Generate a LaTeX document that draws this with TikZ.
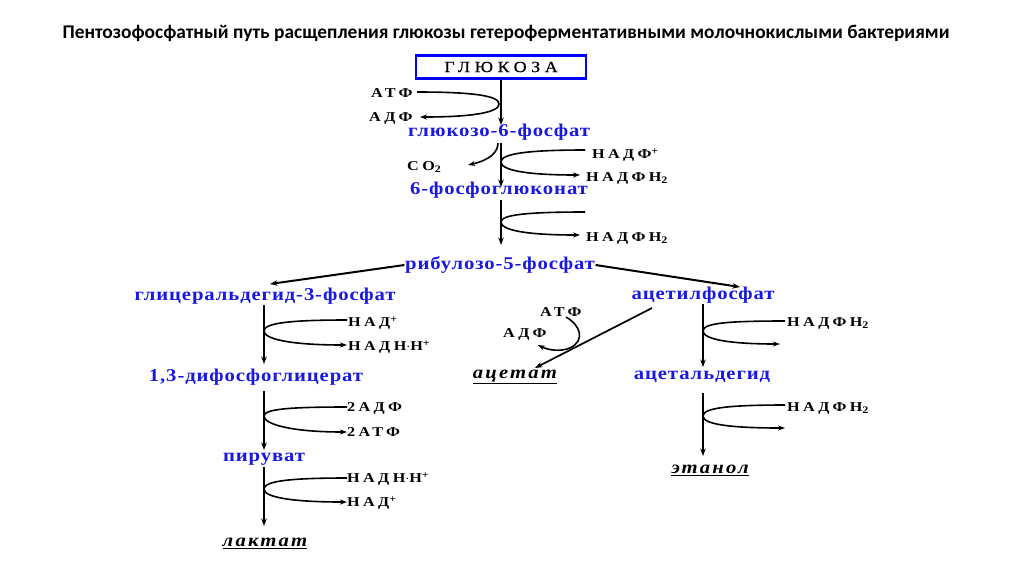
\documentclass[tikz,border=0pt]{standalone}
\usepackage{fontspec}
\setmainfont{Liberation Serif}
\newfontfamily\titlefont{Carlito}
\newfontfamily\labfont[LetterSpace=25, FakeStretch=1.2]{Liberation Serif Bold}
\newfontfamily\metfont[LetterSpace=5, FakeStretch=1.15]{Liberation Serif Bold}
\newfontfamily\prodfont[LetterSpace=12, FakeStretch=1.15]{Liberation Serif Bold Italic}
\newfontfamily\boxfont[LetterSpace=30, FakeStretch=1.15, FakeBold=0.6]{Liberation Serif}
\usetikzlibrary{arrows.meta}
\definecolor{metblue}{RGB}{25,25,225}
\newcommand{\sbt}[1]{\raisebox{-2.5pt}{\fontsize{10}{10}\selectfont #1}}
\newcommand{\spt}[1]{\raisebox{4.5pt}{\fontsize{10}{10}\selectfont #1}}
\begin{document}
\begin{tikzpicture}[x=1pt,y=-1pt,
  met/.style={inner sep=0.5pt, text=metblue, font=\metfont\fontsize{18}{20}\selectfont},
  cof/.style={inner sep=0pt, anchor=west, font=\labfont\fontsize{13.5}{15}\selectfont},
  prod/.style={inner sep=0.5pt, font=\prodfont\fontsize{18}{20}\selectfont},
  main/.style={line width=2pt, -{Stealth[length=7.5pt,width=5.5pt]}},
  hook/.style={line width=1.6pt, -{Stealth[length=7pt,width=5pt]}}]
\useasboundingbox[fill=white] (0,0) rectangle (1024,574);
% title
\node[font=\titlefont\fontsize{19.4}{21}\selectfont\bfseries] (title) at (506,33)
  {Пентозофосфатный путь расщепления глюкозы гетероферментативными молочнокислыми бактериями};
% glucose box
\node[draw=blue, line width=2.2pt, minimum width=170pt, minimum height=23pt, inner sep=0pt,
  font=\boxfont\fontsize{15.5}{17}\selectfont] (glc) at (501,67) {ГЛЮКОЗА};
% metabolites
\node[met] (g6p) at (499,132) {глюкозо-6-фосфат};
\node[met] (pg) at (499,190) {6-фосфоглюконат};
\node[met] (ru) at (500,265) {рибулозо-5-фосфат};
\node[met] (gap) at (265,296) {глицеральдегид-3-фосфат};
\node[met] (dpg) at (256,377) {1,3-дифосфоглицерат};
\node[met] (pyr) at (264,459) {пируват};
\node[prod] (lac) at (265,543) {\underline{лактат}};
\node[met] (acp) at (703,295) {ацетилфосфат};
\node[met] (acd) at (702,377) {ацетальдегид};
\node[prod] (eth) at (710,470) {\underline{этанол}};
\node[prod] (ace) at (515,377) {\underline{ацетат}};
% cofactors
\node[cof] (atp1) at (371,93) {АТФ};
\node[cof] (adp1) at (369,118) {АДФ};
\node[cof] (co2) at (407,167) {СО\sbt{2}};
\node[cof] (nadp1) at (592,155) {НАДФ\spt{+}};
\node[cof] (nadph1) at (586,178) {НАДФН\sbt{2}};
\node[cof] (nadph2) at (586,238) {НАДФН\sbt{2}};
\node[cof] (nad1) at (348,323) {НАД\spt{+}};
\node[cof] (nadh1) at (348,347) {НАДН$\cdot$Н\spt{+}};
\node[cof] (adp2) at (347,408) {2АДФ};
\node[cof] (atp2) at (347,432) {2АТФ};
\node[cof] (nadh2) at (347,479) {НАДН$\cdot$Н\spt{+}};
\node[cof] (nad2) at (347,503) {НАД\spt{+}};
\node[cof] (atp3) at (540,312) {АТФ};
\node[cof] (adp3) at (503,334) {АДФ};
\node[cof] (nadph3) at (787,323) {НАДФН\sbt{2}};
\node[cof] (nadph4) at (787,408) {НАДФН\sbt{2}};
% main arrows
\draw[main] (glc.south) -- (501,125);
\draw[main] (501,143) -- (501,187);
\draw[main] (501,200) -- (501,245);
\draw[main] (ru.west) -- (270,284);
\draw[main] (ru.east) -- (740,287);
\draw[main] (264,305) -- (264,364);
\draw[main] (264,391) -- (264,450);
\draw[main] (264,467) -- (264,526);
\draw[main] (703,304) -- (703,367);
\draw[main] (703,393) -- (703,456);
\draw[line width=1.7pt, -{Stealth[length=7.5pt,width=5.5pt]}] (652,308) -- (535,368);
% hooks
\draw[hook] (417,92) .. controls (475,92) and (499,96) .. (499,104)
  .. controls (499,112) and (475,117) .. (420,117);
\draw[hook] (498,143) .. controls (498,152) and (490,160) .. (468,165);
\draw[hook] (585,150) .. controls (525,150) and (501,154) .. (501,162)
  .. controls (501,170) and (525,175) .. (580,175);
\draw[hook] (585,212) .. controls (525,212) and (501,215) .. (501,222)
  .. controls (501,230) and (525,235) .. (580,235);
\draw[hook] (347,320) .. controls (290,320) and (264,323) .. (264,331)
  .. controls (264,339) and (290,345) .. (347,345);
\draw[hook] (347,407) .. controls (290,407) and (264,409) .. (264,416)
  .. controls (264,424) and (290,432) .. (347,432);
\draw[hook] (347,478) .. controls (290,478) and (264,481) .. (264,489)
  .. controls (264,497) and (290,502) .. (347,502);
\draw[hook] (785,321) .. controls (728,321) and (703,323) .. (703,331)
  .. controls (703,339) and (728,344) .. (780,344);
\draw[hook] (785,405) .. controls (728,405) and (703,408) .. (703,416)
  .. controls (703,424) and (728,428) .. (785,428);
\draw[hook] (566,317) .. controls (580,325) and (586,340) .. (570,348)
  .. controls (560,352) and (548,350) .. (538,345);
\end{tikzpicture}
\end{document}
